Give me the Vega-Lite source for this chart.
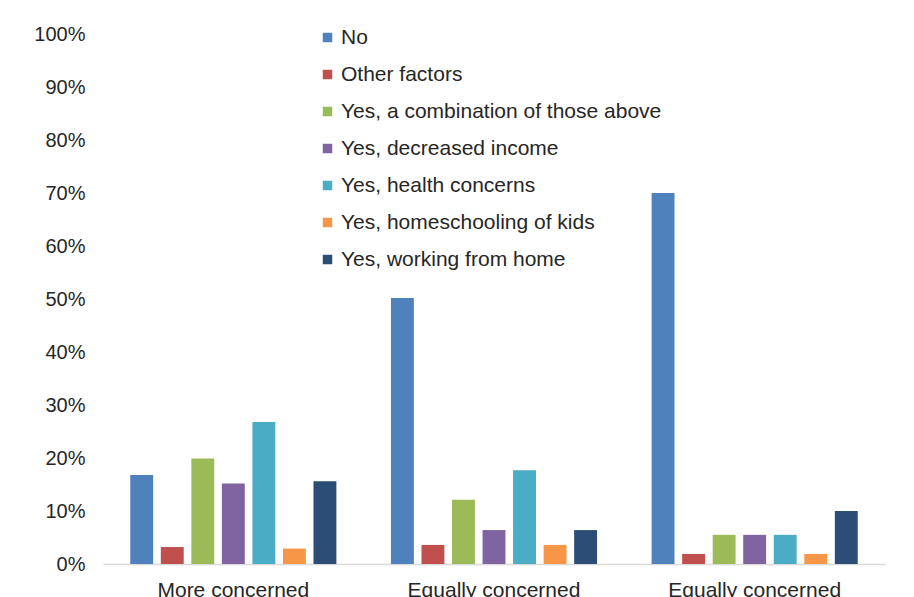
{
  "$schema": "https://vega.github.io/schema/vega-lite/v6.json",
  "width": 782,
  "height": 530,
  "autosize": {"type": "none"},
  "padding": {"left": 103, "top": 34, "right": 29, "bottom": 33},
  "background": "#ffffff",
  "data": {
    "values": [
      {"group": "More concerned", "answer": "No", "share": 0.168},
      {"group": "More concerned", "answer": "Other factors", "share": 0.032},
      {"group": "More concerned", "answer": "Yes, a combination of those above", "share": 0.199},
      {"group": "More concerned", "answer": "Yes, decreased income", "share": 0.152},
      {"group": "More concerned", "answer": "Yes, health concerns", "share": 0.268},
      {"group": "More concerned", "answer": "Yes, homeschooling of kids", "share": 0.029},
      {"group": "More concerned", "answer": "Yes, working from home", "share": 0.156},
      {"group": "Equally concerned", "answer": "No", "share": 0.502},
      {"group": "Equally concerned", "answer": "Other factors", "share": 0.036},
      {"group": "Equally concerned", "answer": "Yes, a combination of those above", "share": 0.121},
      {"group": "Equally concerned", "answer": "Yes, decreased income", "share": 0.064},
      {"group": "Equally concerned", "answer": "Yes, health concerns", "share": 0.177},
      {"group": "Equally concerned", "answer": "Yes, homeschooling of kids", "share": 0.036},
      {"group": "Equally concerned", "answer": "Yes, working from home", "share": 0.064},
      {"group": "Equally concerned ", "answer": "No", "share": 0.70},
      {"group": "Equally concerned ", "answer": "Other factors", "share": 0.019},
      {"group": "Equally concerned ", "answer": "Yes, a combination of those above", "share": 0.055},
      {"group": "Equally concerned ", "answer": "Yes, decreased income", "share": 0.055},
      {"group": "Equally concerned ", "answer": "Yes, health concerns", "share": 0.055},
      {"group": "Equally concerned ", "answer": "Yes, homeschooling of kids", "share": 0.019},
      {"group": "Equally concerned ", "answer": "Yes, working from home", "share": 0.10}
    ]
  },
  "mark": {"type": "bar"},
  "encoding": {
    "x": {
      "field": "group",
      "type": "nominal",
      "sort": null,
      "scale": {"paddingInner": 0.18, "paddingOuter": 0.09},
      "axis": {
        "title": null,
        "labelAngle": 0,
        "labelExpr": "trim(datum.label)",
        "ticks": false,
        "domainColor": "#d9d9d9",
        "domainWidth": 1.5,
        "labelPadding": 15,
        "labelFontSize": 21,
        "labelFont": "Liberation Sans",
        "labelColor": "#262626"
      }
    },
    "xOffset": {
      "field": "answer",
      "type": "nominal",
      "sort": ["No", "Other factors", "Yes, a combination of those above", "Yes, decreased income", "Yes, health concerns", "Yes, homeschooling of kids", "Yes, working from home"],
      "scale": {"paddingInner": 0.25, "paddingOuter": 0.125}
    },
    "y": {
      "field": "share",
      "type": "quantitative",
      "scale": {"domain": [0, 1]},
      "axis": {
        "title": null,
        "values": [0, 0.1, 0.2, 0.3, 0.4, 0.5, 0.6, 0.7, 0.8, 0.9, 1],
        "format": ".0%",
        "grid": false,
        "domain": false,
        "ticks": false,
        "labelPadding": 18,
        "labelFontSize": 20,
        "labelFont": "Liberation Sans",
        "labelColor": "#262626"
      }
    },
    "color": {
      "field": "answer",
      "type": "nominal",
      "sort": ["No", "Other factors", "Yes, a combination of those above", "Yes, decreased income", "Yes, health concerns", "Yes, homeschooling of kids", "Yes, working from home"],
      "scale": {
        "domain": ["No", "Other factors", "Yes, a combination of those above", "Yes, decreased income", "Yes, health concerns", "Yes, homeschooling of kids", "Yes, working from home"],
        "range": ["#4F81BD", "#C0504D", "#9BBB59", "#8064A2", "#4BACC6", "#F79646", "#2C4D75"]
      },
      "legend": {
        "title": null,
        "orient": "none",
        "legendX": 214,
        "legendY": -7,
        "symbolType": "square",
        "symbolSize": 90,
        "symbolStrokeWidth": 0,
        "labelFontSize": 21,
        "labelFont": "Liberation Sans",
        "labelColor": "#262626",
        "labelOffset": 3,
        "rowPadding": 15,
        "labelLimit": 500
      }
    }
  },
  "config": {
    "view": {"stroke": null}
  }
}
